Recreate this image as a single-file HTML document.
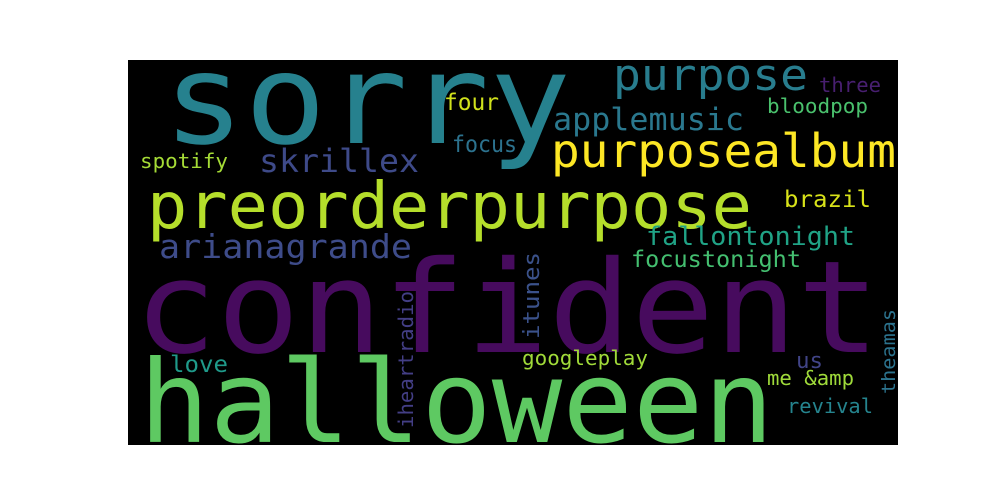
<!DOCTYPE html>
<html><head><meta charset="utf-8"><style>
html,body{margin:0;padding:0;background:#fff;}
svg{display:block;}
text{font-family:"DejaVu Sans Mono","Liberation Mono",monospace;}
</style></head><body>
<svg width="1000" height="500" viewBox="0 0 1000 500">
<rect x="0" y="0" width="1000" height="500" fill="#fff"/>
<rect x="128" y="60" width="770" height="385" fill="#000"/>
<g>
<text x="163" y="143" font-size="125" fill="#26818e" textLength="408" lengthAdjust="spacingAndGlyphs">sorry</text>
<text x="444" y="110" font-size="23" fill="#d0e11c" textLength="55" lengthAdjust="spacingAndGlyphs">four</text>
<text x="452" y="152" font-size="23" fill="#2c728e" textLength="65" lengthAdjust="spacingAndGlyphs">focus</text>
<text x="140" y="168" font-size="20" fill="#a5db36" textLength="88" lengthAdjust="spacingAndGlyphs">spotify</text>
<text x="259" y="172" font-size="32" fill="#3e4a89" textLength="160" lengthAdjust="spacingAndGlyphs">skrillex</text>
<text x="147" y="228" font-size="64" fill="#b5de2b" textLength="605" lengthAdjust="spacingAndGlyphs">preorderpurpose</text>
<text x="159" y="258" font-size="33" fill="#3e4c8a" textLength="253" lengthAdjust="spacingAndGlyphs">arianagrande</text>
<text x="613" y="90" font-size="44" fill="#287d8e" textLength="195" lengthAdjust="spacingAndGlyphs">purpose</text>
<text x="819" y="92" font-size="20" fill="#481f70" textLength="62" lengthAdjust="spacingAndGlyphs">three</text>
<text x="767" y="113" font-size="20" fill="#4ac16d" textLength="101" lengthAdjust="spacingAndGlyphs">bloodpop</text>
<text x="553" y="130" font-size="31" fill="#2a788e" textLength="191" lengthAdjust="spacingAndGlyphs">applemusic</text>
<text x="551" y="167" font-size="46" fill="#fde725" textLength="345" lengthAdjust="spacingAndGlyphs">purposealbum</text>
<text x="784" y="207" font-size="23" fill="#d8e219" textLength="87" lengthAdjust="spacingAndGlyphs">brazil</text>
<text x="646" y="245" font-size="26" fill="#20a386" textLength="209" lengthAdjust="spacingAndGlyphs">fallontonight</text>
<text x="631" y="267" font-size="23" fill="#44bf70" textLength="170" lengthAdjust="spacingAndGlyphs">focustonight</text>
<text x="134" y="352" font-size="128" fill="#470b5e" textLength="746" lengthAdjust="spacingAndGlyphs">confident</text>
<text x="139" y="442" font-size="114" fill="#5ec962" textLength="635" lengthAdjust="spacingAndGlyphs">halloween</text>
<text x="170" y="372" font-size="23" fill="#1f9a8a" textLength="58" lengthAdjust="spacingAndGlyphs">love</text>
<text x="522" y="365" font-size="20" fill="#a0da39" textLength="126" lengthAdjust="spacingAndGlyphs">googleplay</text>
<text x="796" y="368" font-size="22" fill="#414487" textLength="27" lengthAdjust="spacingAndGlyphs">us</text>
<text x="767" y="385" font-size="20" fill="#9fda3a" textLength="87" lengthAdjust="spacingAndGlyphs">me &amp;amp</text>
<text x="787" y="413" font-size="20" fill="#25848e" textLength="86" lengthAdjust="spacingAndGlyphs">revival</text>
<text transform="translate(413,428) rotate(-90)" x="0" y="0" font-size="20" fill="#433e85" textLength="137" lengthAdjust="spacingAndGlyphs">iheartradio</text>
<text transform="translate(539,339) rotate(-90)" x="0" y="0" font-size="22" fill="#3b528b" textLength="87" lengthAdjust="spacingAndGlyphs">itunes</text>
<text transform="translate(895,394) rotate(-90)" x="0" y="0" font-size="19" fill="#2c738e" textLength="85" lengthAdjust="spacingAndGlyphs">theamas</text>
</g>
</svg>
</body></html>
